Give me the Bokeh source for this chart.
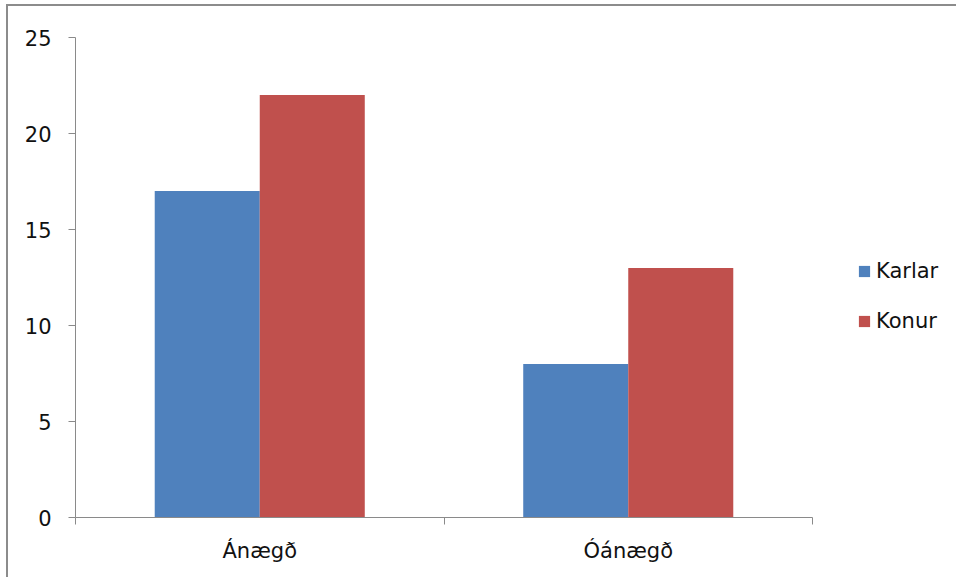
from bokeh.plotting import figure
from bokeh.models import (ColumnDataSource, Range1d, FixedTicker, Legend, LegendItem)
from bokeh.transform import dodge
from bokeh.embed import file_html
from bokeh.resources import INLINE

categories = ["Ánægð", "Óánægð"]
series_names = ["Karlar", "Konur"]
karlar = [17, 8]
konur = [22, 13]
colors = ["#4F81BD", "#C0504D"]
y_ticks = [0, 5, 10, 15, 20, 25]

FONT = "DejaVu Sans"
FS = "21px"
AXIS_COLOR = "#8a8a8a"

W, H = 950, 573
ML, MT, MB = 67, 31, 62
AXIS_PX = 737                      # pixel length of the category axis
frame_w = W - ML
n = len(categories)
x_end = n * frame_w / AXIS_PX      # frame extends right to hold the legend

xpos = [i + 0.5 for i in range(n)]
src = ColumnDataSource(dict(x=xpos, karlar=karlar, konur=konur))

p = figure(width=W, height=H, output_backend="svg", toolbar_location=None,
           x_range=Range1d(0, x_end), y_range=Range1d(0, 25),
           min_border_left=ML, min_border_top=MT, min_border_right=0,
           min_border_bottom=MB)
p.styles = {"border-left": "2px solid #8c8c8c", "border-top": "2px solid #8c8c8c",
            "margin-left": "6px", "margin-top": "4px"}
p.outline_line_color = None
p.xgrid.visible = False
p.ygrid.visible = False

bw = 0.285
r1 = p.vbar(x=dodge("x", -bw / 2, range=p.x_range), top="karlar", width=bw,
            source=src, fill_color=colors[0], line_color=None)
r2 = p.vbar(x=dodge("x", bw / 2, range=p.x_range), top="konur", width=bw,
            source=src, fill_color=colors[1], line_color=None)

# x axis: labels at category centers, tick marks at boundaries
xa = p.xaxis[0]
xa.bounds = (0, n)
xa.ticker = FixedTicker(ticks=xpos, minor_ticks=list(range(n + 1)))
xa.major_label_overrides = {x: c for x, c in zip(xpos, categories)}
xa.major_tick_line_color = None
xa.major_tick_out = 7
xa.major_tick_in = 0
xa.minor_tick_line_color = AXIS_COLOR
xa.minor_tick_out = 7
xa.minor_tick_in = 0
xa.axis_line_color = AXIS_COLOR
xa.major_label_standoff = 14
xa.major_label_text_font = FONT
xa.major_label_text_font_size = FS
xa.major_label_text_color = "#111111"

ya = p.yaxis[0]
ya.ticker = FixedTicker(ticks=y_ticks)
ya.major_tick_out = 7
ya.major_tick_in = 0
ya.minor_tick_line_color = None
ya.major_tick_line_color = AXIS_COLOR
ya.axis_line_color = AXIS_COLOR
ya.major_label_standoff = 17
ya.major_label_text_font = FONT
ya.major_label_text_font_size = FS
ya.major_label_text_color = "#111111"

legend = Legend(items=[LegendItem(label=series_names[0], renderers=[r1]),
                       LegendItem(label=series_names[1], renderers=[r2])],
                location=(782, 184), padding=0, margin=0, spacing=26,
                glyph_width=14, glyph_height=14, label_standoff=5,
                label_text_font=FONT, label_text_font_size=FS,
                label_text_color="#111111",
                border_line_color=None, background_fill_alpha=0)
p.add_layout(legend, "center")

open("out.html", "w").write(file_html(p, INLINE))
